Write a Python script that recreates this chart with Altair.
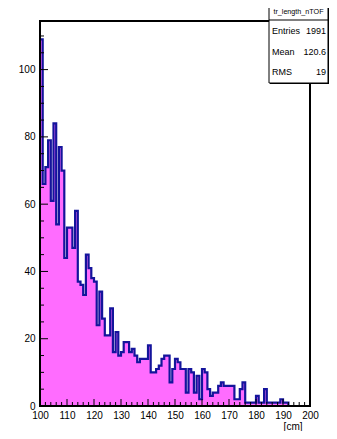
import altair as alt
import pandas as pd

# ---- data (1 cm bins, 100..200) ----
bin_low = list(range(100, 200))
counts = [
    109, 66, 71, 79, 61, 84, 54, 77, 70, 44,   # 100-109
    53, 53, 47, 58, 37, 36, 33, 45, 41, 38,    # 110-119
    37, 24, 34, 26, 21, 21, 29, 16, 22, 15,    # 120-129
    16, 19, 19, 16, 17, 15, 13, 14, 14, 14,    # 130-139
    18, 10, 10, 11, 12, 14, 15, 15, 7, 11,     # 140-149
    14, 13, 11, 11, 4, 11, 10, 4, 9, 2,        # 150-159
    11, 10, 5, 3, 4, 4, 6, 7, 6, 6,            # 160-169
    6, 6, 2, 2, 5, 7, 1, 1, 1, 1,              # 170-179
    3, 1, 1, 5, 1, 1, 1, 1, 1, 2,              # 180-189
    1, 1, 0, 0, 0, 0, 0, 0, 0, 0,              # 190-199
]
x_range = [100, 200]
y_max = 114.45
x_major = [100, 110, 120, 130, 140, 150, 160, 170, 180, 190, 200]
x_minor = [v for v in range(100, 201, 2) if v % 10 != 0]
y_major = [0, 20, 40, 60, 80, 100]
y_minor = [v for v in range(5, 115, 5) if v % 20 != 0]
stat_title = "tr_length_nTOF"
stat_names = ["Entries", "Mean", "RMS"]
stat_values = ["1991", "120.6", "19"]
x_title = "[cm]"

FONT = "Liberation Sans"
FILL = "#ff6cff"
LINE = "#14149c"

hist = pd.DataFrame({"x": bin_low + [x_range[1]], "n": counts + [counts[-1]]})

xs = alt.Scale(domain=x_range, nice=False, zero=False)
ys = alt.Scale(domain=[0, y_max], nice=False, zero=False)

x_axis = alt.Axis(values=x_major, ticks=False, domain=False, grid=False,
                  labelFont=FONT, labelFontSize=10, labelColor="black",
                  labelPadding=4, labelFlush=False, labelOverlap=False,
                  labelBound=False,
                  title=x_title, titleFont=FONT, titleFontSize=10,
                  titleFontWeight="normal", titleColor="black",
                  titleX=262, titleY=25, titleAlign="right",
                  titleBaseline="bottom", titleAnchor="end")
y_axis = alt.Axis(values=y_major, ticks=False, domain=False, grid=False,
                  labelFont=FONT, labelFontSize=10, labelColor="black",
                  labelPadding=5, labelOverlap=False, labelBound=False,
                  labelFlush=False, title=None)

area = alt.Chart(hist).mark_area(interpolate="step-after", color=FILL,
                                 opacity=1).encode(
    x=alt.X("x:Q", scale=xs, axis=x_axis),
    y=alt.Y("n:Q", scale=ys, axis=y_axis),
)
line = alt.Chart(hist).mark_line(interpolate="step-after", color=LINE,
                                 strokeWidth=2.2).encode(
    x=alt.X("x:Q", scale=xs, axis=x_axis),
    y=alt.Y("n:Q", scale=ys, axis=y_axis),
)

one = pd.DataFrame({"a": [0]})

frame = alt.Chart(one).mark_rect(fill=None, stroke="black", strokeWidth=2).encode(
    x=alt.value(0), x2=alt.value(270), y=alt.value(0), y2=alt.value(385))

yt_major = alt.Chart(pd.DataFrame({"v": y_major})).mark_rule(
    color="black", strokeWidth=1).encode(
    y=alt.Y("v:Q", scale=ys, axis=y_axis), x=alt.value(0), x2=alt.value(8))
yt_minor = alt.Chart(pd.DataFrame({"v": y_minor})).mark_rule(
    color="black", strokeWidth=1).encode(
    y=alt.Y("v:Q", scale=ys, axis=y_axis), x=alt.value(0), x2=alt.value(4))
xt_major = alt.Chart(pd.DataFrame({"v": x_major})).mark_rule(
    color="black", strokeWidth=1).encode(
    x=alt.X("v:Q", scale=xs, axis=x_axis), y=alt.value(385), y2=alt.value(378))
xt_minor = alt.Chart(pd.DataFrame({"v": x_minor})).mark_rule(
    color="black", strokeWidth=1).encode(
    x=alt.X("v:Q", scale=xs, axis=x_axis), y=alt.value(385), y2=alt.value(381))

# stats box (page ends at x=329, so the box is kept inside)
shadow = alt.Chart(one).mark_rect(fill="black").encode(
    x=alt.value(230), x2=alt.value(289), y=alt.value(-17), y2=alt.value(63))
box = alt.Chart(one).mark_rect(fill="white", stroke="black", strokeWidth=1).encode(
    x=alt.value(229), x2=alt.value(288), y=alt.value(-18), y2=alt.value(62))
sep = alt.Chart(one).mark_rule(color="black", strokeWidth=1).encode(
    x=alt.value(229), x2=alt.value(288), y=alt.value(-1))
title_txt = alt.Chart(one).mark_text(font=FONT, fontSize=7.2, align="center",
                                     baseline="middle", color="black").encode(
    x=alt.value(258.5), y=alt.value(-9), text=alt.value(stat_title))

rows = []
row_y = [10, 31, 51]
for name, val, yy in zip(stat_names, stat_values, row_y):
    rows.append(alt.Chart(one).mark_text(font=FONT, fontSize=9, align="left",
                                         baseline="middle", color="black").encode(
        x=alt.value(232), y=alt.value(yy), text=alt.value(name)))
    rows.append(alt.Chart(one).mark_text(font=FONT, fontSize=9, align="right",
                                         baseline="middle", color="black").encode(
        x=alt.value(286), y=alt.value(yy), text=alt.value(val)))

chart = alt.layer(area, line, frame, yt_minor, yt_major, xt_minor, xt_major,
                  shadow, box, sep, title_txt, *rows).properties(
    width=270, height=385,
    autosize=alt.AutoSizeParams(type="none"),
    padding={"left": 32, "top": 13, "right": 19, "bottom": 25},
    background="white",
).configure_view(stroke=None)

chart.save("out.html", embed_options={"renderer": "svg", "actions": False})
